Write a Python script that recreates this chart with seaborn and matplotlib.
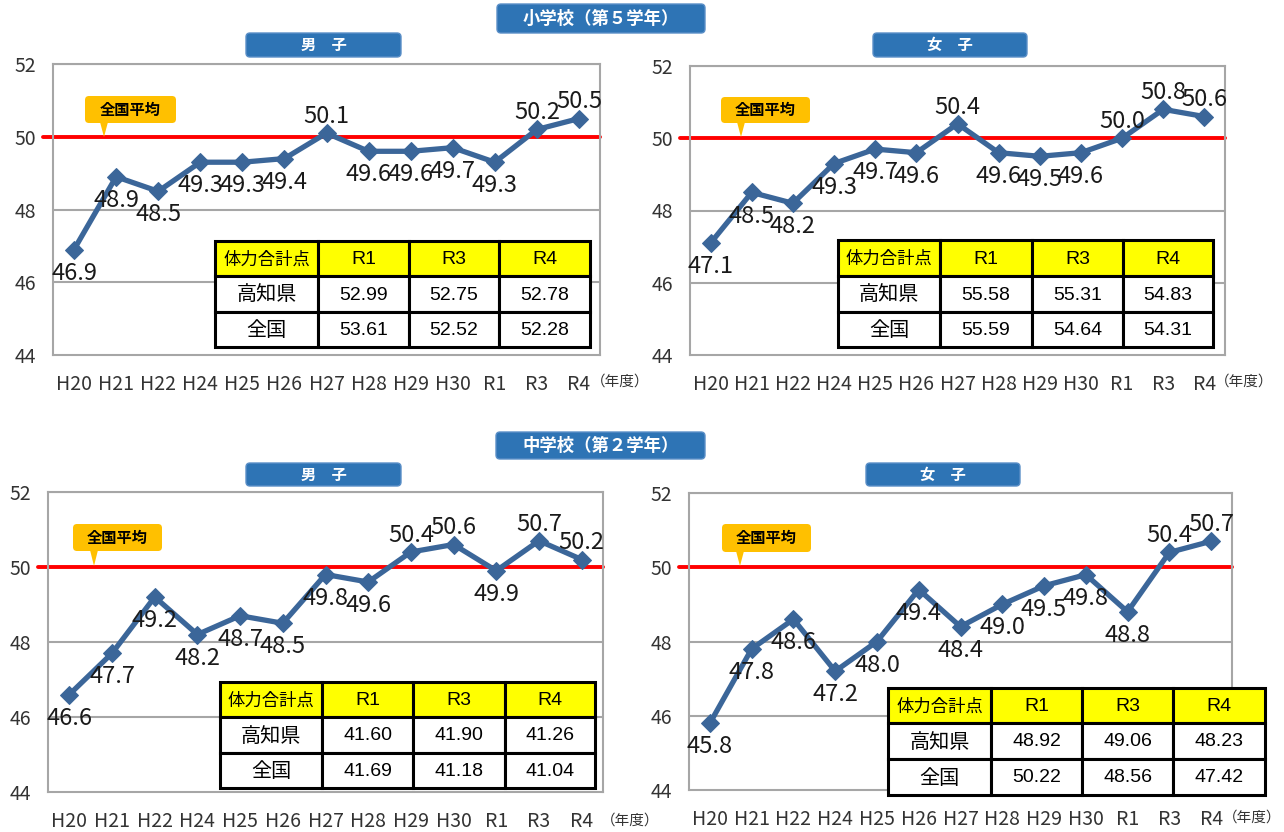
import numpy as np
import pandas as pd
import matplotlib
matplotlib.use("Agg")
import matplotlib.pyplot as plt
import seaborn as sns
from matplotlib.patches import FancyBboxPatch, Polygon, Rectangle

sns.set_theme(style="white")
plt.rcParams['font.family'] = ['Noto Sans CJK JP', 'DejaVu Sans']

W, H = 1284, 832

# data
years = ["H20", "H21", "H22", "H24", "H25", "H26", "H27", "H28", "H29", "H30", "R1", "R3", "R4"]
es_boys = [46.9, 48.9, 48.5, 49.3, 49.3, 49.4, 50.1, 49.6, 49.6, 49.7, 49.3, 50.2, 50.5]
es_girls = [47.1, 48.5, 48.2, 49.3, 49.7, 49.6, 50.4, 49.6, 49.5, 49.6, 50.0, 50.8, 50.6]
jh_boys = [46.6, 47.7, 49.2, 48.2, 48.7, 48.5, 49.8, 49.6, 50.4, 50.6, 49.9, 50.7, 50.2]
jh_girls = [45.8, 47.8, 48.6, 47.2, 48.0, 49.4, 48.4, 49.0, 49.5, 49.8, 48.8, 50.4, 50.7]
national_avg = 50

table_header = ["体力合計点", "R1", "R3", "R4"]
table_rows = ["高知県", "全国"]
es_boys_tbl = [["52.99", "52.75", "52.78"], ["53.61", "52.52", "52.28"]]
es_girls_tbl = [["55.58", "55.31", "54.83"], ["55.59", "54.64", "54.31"]]
jh_boys_tbl = [["41.60", "41.90", "41.26"], ["41.69", "41.18", "41.04"]]
jh_girls_tbl = [["48.92", "49.06", "48.23"], ["50.22", "48.56", "47.42"]]

LINE = "#3B6699"
BLUE = "#2E74B5"
GRID = "#A6A6A6"


def px_rect(l, t, r, b):
    return [l / W, 1 - b / H, (r - l) / W, (b - t) / H]


fig = plt.figure(figsize=(W / 100, H / 100), dpi=100)


def draw_panel(values, rect):
    ax = fig.add_axes(px_rect(*rect))
    df = pd.DataFrame({"x": np.arange(len(values)), "y": values})
    for y in [46, 48, 52]:
        ax.axhline(y, color=GRID, lw=1.5, zorder=1)
    ax.axhline(national_avg, xmin=-0.018, xmax=1, color="red", lw=2.8, zorder=2, clip_on=False)
    sns.lineplot(data=df, x="x", y="y", ax=ax, color=LINE, lw=3.8, marker="D",
                 markersize=9, markeredgecolor=LINE, zorder=3)
    for i, v in enumerate(values):
        off = 12 if v >= national_avg else -17
        ax.annotate(f"{v:.1f}", (i, v), xytext=(0, off), textcoords="offset points",
                    ha="center", va="center", fontsize=17, color="#1a1a1a", zorder=4)
    ax.set_xlim(-0.5, len(values) - 0.5)
    ax.set_ylim(44, 52)
    ax.set_yticks([44, 46, 48, 50, 52])
    ax.set_yticklabels(["44", "46", "48", "50", "52"], fontsize=14, color="#333333")
    ax.set_xticks(np.arange(-0.5, len(values), 1))
    ax.set_xticklabels([])
    ax.set_xticks(np.arange(len(values)), minor=True)
    ax.set_xticklabels(years, minor=True, fontsize=14, color="#333333")
    ax.tick_params(axis="x", which="major", direction="out", length=6, width=1.5, color=GRID)
    ax.tick_params(axis="x", which="minor", length=0, pad=14)
    ax.tick_params(axis="y", direction="out", length=8, width=1.5, color=GRID, pad=4)
    ax.set_xlabel("")
    ax.set_ylabel("")
    for s in ax.spines.values():
        s.set_color(GRID)
        s.set_linewidth(1.5)
    ax.set_facecolor("white")
    return ax


draw_panel(es_boys, (53, 64, 600, 355))
draw_panel(es_girls, (690, 66, 1225, 355))
draw_panel(jh_boys, (48, 492, 603, 792))
draw_panel(jh_girls, (689, 493, 1232, 790))

# overlay for boxes, callouts and tables in pixel coordinates
ov = fig.add_axes([0, 0, 1, 1], zorder=10)
ov.set_xlim(0, W)
ov.set_ylim(H, 0)
ov.axis("off")
ov.patch.set_alpha(0)


def title_box(text, l, t, r, b, size):
    ov.add_patch(FancyBboxPatch((l, t), r - l, b - t, boxstyle="round,pad=0,rounding_size=4",
                                fc=BLUE, ec="#5B8FC7", lw=1))
    ov.text((l + r) / 2, (t + b) / 2, text, ha="center", va="center", color="white",
            fontsize=size, fontweight="bold")


title_box("小学校（第５学年）", 497, 4, 705, 33, 12.5)
title_box("男　子", 246, 33, 401, 57, 11)
title_box("女　子", 873, 33, 1027, 57, 11)
title_box("中学校（第２学年）", 496, 432, 705, 459, 12.5)
title_box("男　子", 246, 463, 401, 486, 11)
title_box("女　子", 866, 463, 1020, 486, 11)


def callout(l, t, r, b, tx, ty):
    ov.add_patch(FancyBboxPatch((l, t), r - l, b - t, boxstyle="round,pad=0,rounding_size=4",
                                fc="#FFC000", ec="none"))
    ov.add_patch(Polygon([(tx - 4, b - 1), (tx + 4, b - 1), (tx, ty)], closed=True,
                         fc="#FFC000", ec="none"))
    ov.text((l + r) / 2, (t + b) / 2, "全国平均", ha="center", va="center",
            fontsize=11, fontweight="bold", color="black")


callout(85, 96, 176, 123, 104, 137)
callout(721, 97, 810, 123, 741, 137)
callout(73, 524, 162, 551, 94, 566)
callout(722, 524, 811, 552, 740, 566)


def draw_table(cells, xs, ys):
    tfam = ["Liberation Sans", "Noto Sans CJK JP"]
    rows = [table_header] + [[table_rows[i]] + cells[i] for i in range(len(cells))]
    for ri, row in enumerate(rows):
        for ci, txt in enumerate(row):
            fc = "#FFFF00" if ri == 0 else "white"
            ov.add_patch(Rectangle((xs[ci], ys[ri]), xs[ci + 1] - xs[ci], ys[ri + 1] - ys[ri],
                                   fc=fc, ec="black", lw=2.2))
            if ri == 0 and ci == 0:
                fs = 12.5
            elif ci == 0:
                fs = 14.5
            else:
                fs = 14
            ov.text((xs[ci] + xs[ci + 1]) / 2, (ys[ri] + ys[ri + 1]) / 2 + 1, txt,
                    ha="center", va="center", fontsize=fs, family=tfam, color="black")


draw_table(es_boys_tbl, [215, 318, 409, 499, 590], [241, 276, 312, 347])
draw_table(es_girls_tbl, [838, 940, 1032, 1123, 1213], [240, 276, 312, 347])
draw_table(jh_boys_tbl, [220, 322, 413, 505, 595], [682, 717, 753, 788])
draw_table(jh_girls_tbl, [888, 991, 1082, 1173, 1265], [688, 723, 759, 795])

for x, y in [(591, 382), (1215, 382), (601, 821), (1223, 818)]:
    ov.text(x, y, "（年度）", ha="left", va="center", fontsize=10.5, color="#333333")

fig.savefig("out.png", dpi=100, facecolor="white")
